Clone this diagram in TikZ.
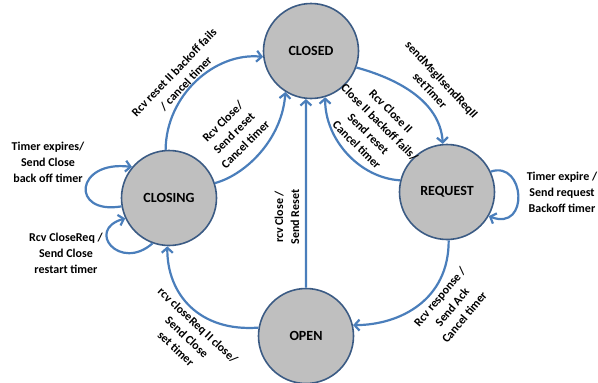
\documentclass[tikz,border=0pt]{standalone}
\usepackage{fontspec}
\setmainfont{Carlito}
\usetikzlibrary{arrows.meta}
\definecolor{edgeblue}{HTML}{4A7EBB}
\definecolor{statefill}{HTML}{BFBFBF}
\definecolor{stateline}{HTML}{3B5B84}
\begin{document}
\begin{tikzpicture}[x=1pt,y=-1pt,
  state/.style={circle,draw=stateline,line width=1.6pt,fill=statefill,
    minimum size=95pt,inner sep=0pt,font=\fontsize{14}{16}\selectfont\bfseries},
  trans/.style={draw=edgeblue,line width=2.2pt,
    -{Straight Barb[length=5pt,width=11pt]}},
  lbl/.style={align=center,inner sep=0pt,
    font=\fontsize{12}{16}\selectfont\bfseries}]
\useasboundingbox (0,0) rectangle (598,383);

% states
\node[state] (closed)  at (311,51)  {CLOSED};
\node[state] (closing) at (169,198) {CLOSING};
\node[state] (request) at (447,192) {REQUEST};
\node[state] (open)    at (306,336) {OPEN};

% transitions
\draw[trans] (closing.94) .. controls (166,95) and (215,52) .. (closed.187);
\draw[trans] (closing.18) .. controls (245,175) and (282,140) .. (closed.238);
\draw[trans] (open.north) -- (closed.264);
\draw[trans] (closed.340) .. controls (395,78) and (440,100) .. (request.95);
\draw[trans] (request.166) .. controls (360,178) and (325,140) .. (closed.287);
\draw[trans] (request.272) .. controls (449,300) and (400,325) .. (open.13);
\draw[trans] (open.170) .. controls (200,332) and (167,295) .. (closing.268);

% self loops
\draw[trans] (closing.190) .. controls (70,215) and (75,160) .. (closing.140);
\draw[trans] (closing.250) .. controls (120,272) and (85,230) .. (closing.205);
\draw[trans] (request.25) .. controls (525,160) and (530,232) .. (request.-30);

% labels
\node[lbl,rotate=46] (l1) at (180,78) {Rcv reset II backoff fails\\/ cancel timer};
\node[lbl,rotate=45] (l2) at (234,133) {Rcv Close/\\Send reset\\Cancel timer};
\node[lbl,rotate=90] (l3) at (287,217) {rcv Close /\\Send Reset};
\node[lbl,rotate=-47] (l4) at (436,85) {sendMsgIIsendReqII\\setTimer};
\node[lbl,rotate=-45] (l5) at (374,128) {Rcv Close II\\Close II backoff fails/\\Send reset\\Cancel timer};
\node[lbl] (l6) at (562,192) {Timer expire /\\Send request\\Backoff timer};
\node[lbl] (l7) at (48,162) {Timer expires/\\Send Close\\back off timer};
\node[lbl] (l8) at (66,253) {Rcv CloseReq /\\Send Close\\restart timer};
\node[lbl,rotate=50] (l9) at (452,307) {Rcv response /\\Send Ack\\Cancel timer};
\node[lbl,rotate=-43] (l10) at (187,337) {rcv closeReq II close/\\Send Close\\set timer};
\end{tikzpicture}
\end{document}
